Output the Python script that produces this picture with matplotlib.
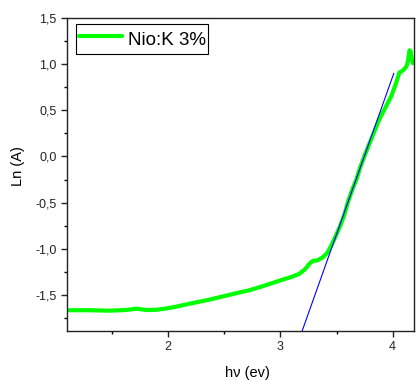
import numpy as np
import matplotlib
matplotlib.use("Agg")
import matplotlib.pyplot as plt
from matplotlib.ticker import FuncFormatter, MultipleLocator

plt.rcParams['font.family'] = ['Liberation Sans', 'DejaVu Sans']

hv = [1.12, 1.30, 1.48, 1.62, 1.70, 1.72, 1.76, 1.81, 1.90, 1.99, 2.08, 2.17,
      2.27, 2.37, 2.49, 2.61, 2.72, 2.83, 2.93, 3.03, 3.11, 3.17, 3.22, 3.26,
      3.29, 3.33, 3.38, 3.42, 3.455, 3.49, 3.53, 3.57, 3.60, 3.64, 3.68, 3.71,
      3.76, 3.82, 3.88, 3.94, 3.99, 4.02, 4.04, 4.06, 4.09, 4.12, 4.13, 4.14,
      4.15, 4.16, 4.17, 4.18]
ln_a = [-1.665, -1.665, -1.670, -1.663, -1.652, -1.648, -1.655, -1.663, -1.660,
        -1.645, -1.625, -1.600, -1.575, -1.550, -1.515, -1.480, -1.450, -1.410,
        -1.370, -1.330, -1.300, -1.270, -1.220, -1.160, -1.130, -1.125, -1.090,
        -1.040, -0.960, -0.870, -0.760, -0.630, -0.500, -0.360, -0.240, -0.120,
        0.040, 0.220, 0.400, 0.540, 0.660, 0.760, 0.830, 0.910, 0.930, 0.970,
        1.000, 1.060, 1.150, 1.140, 1.050, 1.010]

# Droite d'ajustement (extrémités)
fit_x = [3.185, 4.01]
fit_y = [-1.92, 0.90]

fig = plt.figure(figsize=(4.16, 3.81), dpi=100)
ax = fig.add_axes([67 / 416, 50 / 381, 347 / 416, 313 / 381])

ax.plot(hv, ln_a, color='#00ff00', lw=3, label='Nio:K 3%', solid_capstyle='round')
ax.plot(fit_x, fit_y, color='#0000ff', lw=0.8)

ax.set_xlim(1.10, 4.19)
ax.set_ylim(-1.89, 1.5)

ax.xaxis.set_major_locator(MultipleLocator(1))
ax.xaxis.set_minor_locator(MultipleLocator(0.5))
ax.yaxis.set_major_locator(MultipleLocator(0.5))
ax.yaxis.set_minor_locator(MultipleLocator(0.25))

comma = FuncFormatter(lambda v, p: f"{v:.1f}".replace('.', ','))
ax.yaxis.set_major_formatter(comma)
ax.xaxis.set_major_formatter(FuncFormatter(lambda v, p: f"{v:.0f}"))

ax.tick_params(which='major', direction='out', length=4, width=1, labelsize=9,
               colors='#222222')
ax.tick_params(which='minor', direction='out', length=2.5, width=1)
for s in ax.spines.values():
    s.set_linewidth(1)
    s.set_color('#222222')

ax.set_xlabel('hν (ev)', fontsize=10.5)
ax.set_ylabel('Ln (A)', fontsize=10.5)
ax.xaxis.set_label_coords(0.519, -0.134)
ax.yaxis.set_label_coords(-0.141, 0.527)
ax.xaxis.label.set_va('center')
ax.yaxis.label.set_va('center')

leg = ax.legend(loc='upper left', bbox_to_anchor=(76 / 416, 1 - 24 / 381),
                bbox_transform=fig.transFigure, borderaxespad=0, fontsize=13.5,
                fancybox=False, framealpha=1, edgecolor='black',
                handlelength=2.3, handletextpad=0.3, borderpad=0.15,
                handleheight=1.6)
leg.get_frame().set_linewidth(0.8)

fig.savefig('out.png', dpi=100)
